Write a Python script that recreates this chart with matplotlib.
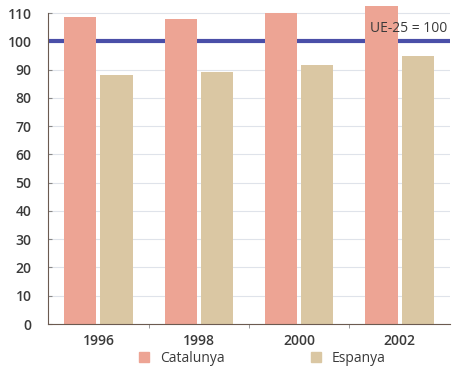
import numpy as np
import matplotlib.pyplot as plt
from matplotlib.patches import Patch

# Data
years = ['1996', '1998', '2000', '2002']
catalunya = [108.5, 107.8, 110.1, 112.5]
espanya = [88.0, 89.2, 91.8, 94.7]
ue_ref = 100

c_cat = '#eda494'
c_esp = '#dac7a3'
c_line = '#4a4fa8'
c_text = '#3a3a3a'

plt.rcParams['font.family'] = ['Open Sans', 'DejaVu Sans']

fig = plt.figure(figsize=(4.59, 3.72), dpi=100)
ax = fig.add_axes([0.105, 0.129, 0.875, 0.866])

x = np.arange(len(years))
w = 0.32
ax.bar(x - 0.18, catalunya, width=w, color=c_cat, zorder=2)
ax.bar(x + 0.18, espanya, width=w, color=c_esp, zorder=2)

ax.axhline(ue_ref, color=c_line, linewidth=3, zorder=1)
ax.text(3.47, 102, 'UE-25 = 100', ha='right', va='bottom', fontsize=10, color=c_text, zorder=3)

ax.set_xlim(-0.5, 3.5)
ax.set_ylim(0, 114)
ax.set_yticks(range(0, 111, 10))
ax.set_xticks(x)
ax.set_xticklabels(years, fontsize=10, fontweight='semibold', color=c_text)
ax.set_xticks([0.5, 1.5, 2.5], minor=True)
ax.tick_params(axis='x', which='major', length=0, pad=7)
ax.tick_params(axis='x', which='minor', length=3, color='#8a8a8a', direction='out')
ax.tick_params(axis='y', length=3, color='#8a8a8a', direction='in', labelsize=10, labelcolor=c_text, pad=12)
for lbl in ax.get_yticklabels():
    lbl.set_fontweight('semibold')

ax.grid(axis='y', color='#dfe3ea', linewidth=0.8, zorder=0)
ax.set_axisbelow(True)
for s in ['top', 'right']:
    ax.spines[s].set_visible(False)
ax.spines['left'].set_bounds(0, 110)
ax.spines['left'].set_color('#6b5a50')
ax.spines['bottom'].set_color('#6b5a50')

handles = [Patch(color=c_cat, label='Catalunya'), Patch(color=c_esp, label='Espanya')]
leg = fig.legend(handles=handles, loc='lower center', bbox_to_anchor=(0.571, -0.018), ncol=2,
                 frameon=False, fontsize=10, handlelength=0.75, handleheight=0.75,
                 handletextpad=0.75, columnspacing=6.2)
for t in leg.get_texts():
    t.set_color(c_text)

fig.savefig('out.png', dpi=100)
